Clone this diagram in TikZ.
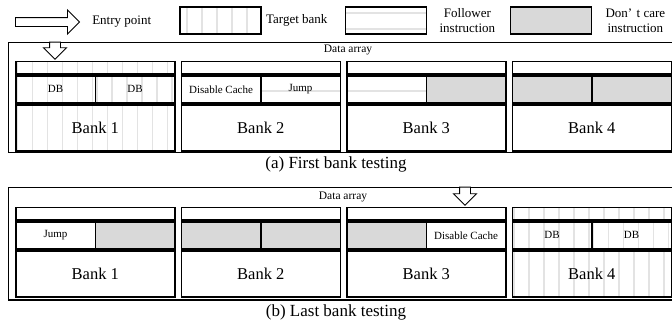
\documentclass[tikz,border=0pt]{standalone}
\usepackage{fontspec}
\setmainfont{Liberation Serif}
\usetikzlibrary{positioning,shapes.arrows}
\tikzset{
	bankpart/.style={
		rectangle,
		draw=black,
		line width=1.6pt,
		inner sep=0pt,
		minimum width=159pt
	},
	strip/.style={
		bankpart,
		minimum height=12.6pt
	},
	cell/.style={
		bankpart,
		minimum width=79.5pt,
		minimum height=27.4pt,
		font=\fontsize{11}{13}\selectfont
	},
	body/.style={
		bankpart,
		minimum height=46pt,
		font=\fontsize{16.5}{19}\selectfont
	},
	hatchline/.style={
		draw=gray!22,
		line width=1.6pt
	},
	target/.style={
		path picture={
			\foreach \k in {0,...,11}
				\draw[hatchline] ([xshift=#1*1pt+\k*15pt]path picture bounding box.north west)
					-- ([xshift=#1*1pt+\k*15pt]path picture bounding box.south west);
		}
	},
	target/.default=1.7,
	follower/.style={
		path picture={
			\foreach \d in {#1}
				\draw[hatchline] ([yshift=-\d*1pt]path picture bounding box.north west)
					-- ([yshift=-\d*1pt]path picture bounding box.north east);
		}
	},
	follower/.default={15.5},
	dontcare/.style={
		fill=gray!30
	},
	panel/.style={
		rectangle,
		draw=black,
		line width=1.3pt,
		inner sep=0pt,
		minimum width=666pt,
		anchor=north west
	},
	entryarrow/.style={
		single arrow,
		draw=black,
		line width=0.9pt,
		fill=white,
		inner sep=0pt,
		anchor=tail
	},
	keybox/.style={
		rectangle,
		draw=black,
		line width=1.8pt,
		inner sep=0pt,
		minimum width=81pt,
		minimum height=27pt
	},
	keytext/.style={
		inner sep=0pt,
		font=\fontsize{13}{15}\selectfont
	},
	small/.style={
		inner sep=0pt,
		font=\fontsize{11.5}{13}\selectfont
	},
	caption/.style={
		inner sep=0pt,
		font=\fontsize{17}{20}\selectfont
	}
}
% one bank: name, top left corner, number, bank style, left style, left text, right style, right text
\newcommand{\drawbank}[8]{%
	\node[strip,#4,anchor=north west] (#1s) at (#2) {};
	\node[cell,#4,#5,anchor=north west] (#1l) at (#1s.south west) {#6};
	\node[cell,#4,#7,anchor=north east] (#1r) at (#1s.south east) {#8};
	\node[body,#4,anchor=north west] (#1b) at (#1l.south west) {Bank #3};
}

\begin{document}
\begin{tikzpicture}[x=1pt,y=-1pt]
\useasboundingbox (0,0) rectangle (672,327);
% legend
\node[entryarrow, minimum height=64pt, inner ysep=4pt, single arrow head extend=7.5pt] (entry) at (15,22) {};
\node[keytext, right=12pt of entry.tip] (entrytxt) {Entry point};
\node[keybox,target=6.7] (ktarget) at (220.5,20.5) {};
\node[keytext, right=4pt of ktarget] (targettxt) {Target bank};
\node[keybox,follower={6,22}] (kfollow) at (386,20.5) {};
\node[keytext, align=center, right=12pt of kfollow] (followtxt) {Follower\\instruction};
\node[keybox,dontcare] (kdont) at (551,20.5) {};
\node[keytext, align=center, right=13pt of kdont] (donttxt) {Don’\,\,t care\\instruction};

% (a) first bank
\node[panel, minimum height=110pt] (pa) at (7.5,41.7) {};
\node[small] (daa) at (348,50) {Data array};
\drawbank{a1}{15,60.7}{1}{target}{}{DB}{}{DB}
\drawbank{a2}{180.5,60.7}{2}{}{}{Disable Cache}{follower}{Jump}
\drawbank{a3}{346,60.7}{3}{}{follower}{}{dontcare}{}
\drawbank{a4}{511.5,60.7}{4}{}{dontcare}{}{dontcare}{}
\node[entryarrow, rotate=-90, minimum height=17pt, inner ysep=5pt, single arrow head extend=6pt] (ina) at (55,41.7) {};
\node[caption] (capa) at (336,164) {(a) First bank testing};

% (b) last bank
\node[panel, minimum height=112.6pt] (pb) at (7.5,186.7) {};
\node[small] (dab) at (343,197) {Data array};
\drawbank{b1}{15,206.7}{1}{}{}{Jump}{dontcare}{}
\drawbank{b2}{180.5,206.7}{2}{}{dontcare}{}{dontcare}{}
\drawbank{b3}{346,206.7}{3}{}{dontcare}{}{}{Disable Cache}
\drawbank{b4}{511.5,206.7}{4}{target}{}{DB}{}{DB}
\node[entryarrow, rotate=-90, minimum height=18pt, inner ysep=5pt, single arrow head extend=6pt] (inb) at (465,186.7) {};
\node[caption] (capb) at (336,312) {(b) Last bank testing};
\end{tikzpicture}
\end{document}
